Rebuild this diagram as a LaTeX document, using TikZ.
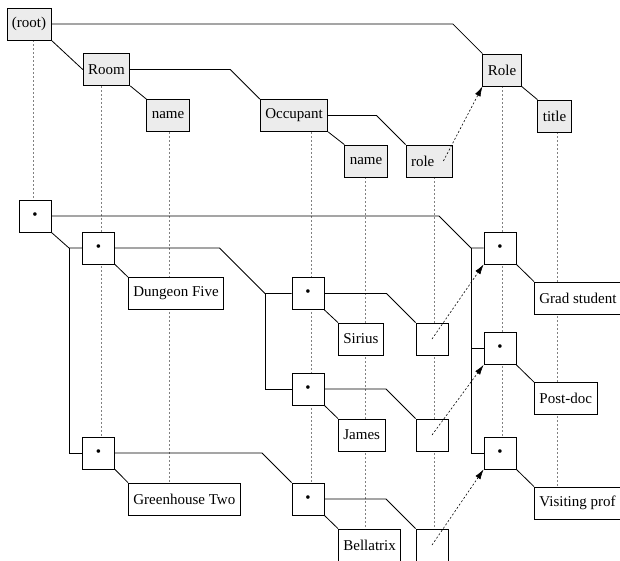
\documentclass[tikz,border=0pt]{standalone}
\usepackage{fontspec}
\setmainfont{Liberation Serif}
\usetikzlibrary{calc,arrows.meta,backgrounds}

\tikzset{
  schema/.style={draw, fill=gray!15, minimum height=32pt, inner xsep=5pt, inner ysep=0pt},
  inst/.style={draw, fill=white, minimum width=32pt, minimum height=32pt, inner sep=0pt},
  leaf/.style={draw, fill=white, minimum height=32pt, inner xsep=5pt, inner ysep=0pt, anchor=west},
  guide/.style={gray, dash pattern=on 2pt off 2pt, line width=0.6pt},
  link/.style={dash pattern=on 2pt off 2pt, line width=0.6pt, -{Latex[length=10pt,width=6pt]}},
  elbow/.style={to path={let \p1=(\tikztostart), \p2=(\tikztotarget) in
      -- ({\x2+(\y2)-(\y1)},\y1) -- (\tikztotarget)}}
}

\begin{document}
\begin{tikzpicture}[x=1pt, y=-1pt, line width=0.8pt, font=\fontsize{15}{18}\selectfont]
    \useasboundingbox (0,0) rectangle (620,560);
    \clip (0,0) rectangle (620,560);

    % Schema
    \node[schema] (root) at (29,24) {(root)};
    \node[schema] (room) at (106.5,69.5) {Room};
    \node[schema] (roomName) at (168,115.5) {name};
    \node[schema] (occupant) at (294,115.5) {Occupant};
    \node[schema] (occName) at (366,161) {name};
    \node[schema, text width=36pt, align=left] (occRole) at (429,161) {role};
    \node[schema] (role) at (502,70) {Role};
    \node[schema] (roleTitle) at (554.5,116) {title};

    % Instances
    \node[inst] (rootI) at (35,216) {\textbullet};
    \node[inst] (roomA) at (98.5,248) {\textbullet};
    \node[inst] (roomB) at (98.5,453) {\textbullet};
    \node[leaf] (dungeon) at (128,293.5) {Dungeon Five};
    \node[leaf] (greenhouse) at (128,499) {Greenhouse Two};
    \node[inst] (occA) at (308,293.5) {\textbullet};
    \node[inst] (occB) at (308,389) {\textbullet};
    \node[inst] (occC) at (308,499) {\textbullet};
    \node[leaf] (sirius) at (338,339) {Sirius};
    \node[leaf] (james) at (338,435) {James};
    \node[leaf] (bellatrix) at (338,545) {Bellatrix};
    \node[inst] (refA) at (432,339) {};
    \node[inst] (refB) at (432,435) {};
    \node[inst] (refC) at (432,545) {};
    \node[inst] (roleA) at (500,248) {\textbullet};
    \node[inst] (roleB) at (500,348.5) {\textbullet};
    \node[inst] (roleC) at (500,453) {\textbullet};
    \node[leaf] (grad) at (534,298) {Grad student};
    \node[leaf] (postdoc) at (534,398.5) {Post-doc};
    \node[leaf] (visiting) at (534,503) {Visiting prof};

    % Column guides
    \begin{scope}[on background layer]
        \foreach \sch/\ins/\col in {root/rootI/33, room/roomB/101, roomName/greenhouse/169,
                occupant/occC/311, occName/bellatrix/365, occRole/refC/434,
                role/roleC/502, roleTitle/visiting/557} {
            \coordinate (guideX) at (\col,0);
            \draw[guide] (\sch.south -| guideX) -- (\ins.north -| guideX);
        }
    \end{scope}

    % Schema links
    \draw (root.south east) -- (room.west);
    \draw (root.east) to[elbow] (role.north west);
    \draw (room.south east) -- (roomName.north west);
    \draw (room.east) to[elbow] (occupant.north west);
    \draw (occupant.south east) -- (occName.north west);
    \draw (occupant.east) to[elbow] (occRole.north west);
    \draw (role.south east) -- (roleTitle.north west);
    \draw[link] ([xshift=-9pt]occRole.east) -- (role.south west);

    % Instance links
    \coordinate (roomBus) at (69,0);
    \coordinate (occBus) at (265,0);
    \coordinate (roleBus) at (471,0);
    \draw (rootI.south east) -- (roomA.west -| roomBus) -- (roomA.west);
    \draw (roomA.west -| roomBus) |- (roomB.west);
    \draw (rootI.east) to[elbow] (roleA.west -| roleBus) -- (roleA.west);
    \draw (roleA.west -| roleBus) |- (roleB.west);
    \draw (roleA.west -| roleBus) |- (roleC.west);
    \draw (roomA.south east) -- (dungeon.north west);
    \draw (roomA.east) to[elbow] (occA.west -| occBus) -- (occA.west);
    \draw (occA.west -| occBus) |- (occB.west);
    \draw (roomB.south east) -- (greenhouse.north west);
    \draw (roomB.east) to[elbow] (occC.north west);
    \foreach \occ/\who/\slot in {occA/sirius/refA, occB/james/refB, occC/bellatrix/refC} {
        \draw (\occ.south east) -- (\who.north west);
        \draw (\occ.east) to[elbow] (\slot.north west);
    }
    \foreach \inst/\val/\slot in {roleA/grad/refA, roleB/postdoc/refB, roleC/visiting/refC} {
        \draw (\inst.south east) -- (\val.north west);
        \draw[link] (\slot.center) -- (\inst.south west);
    }
\end{tikzpicture}
\end{document}
